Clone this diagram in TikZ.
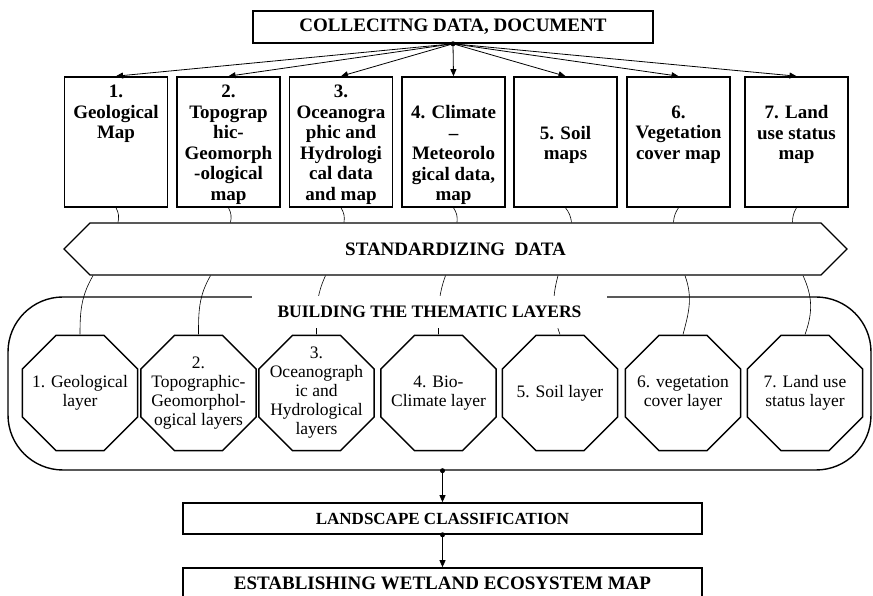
\documentclass[tikz,border=0pt]{standalone}
\usepackage{fontspec}
\setmainfont{Liberation Serif}
\usetikzlibrary{arrows.meta, positioning, shapes.geometric, shapes.symbols, calc}

\begin{document}
\begin{tikzpicture}[x=1pt, y=1pt,
    titlebox/.style={draw, line width=1.6pt, inner sep=0pt, font=\fontsize{19}{21}\selectfont\bfseries},
    mapbox/.style={draw, line width=1.6pt, minimum width=103pt, minimum height=130pt, inner sep=0pt},
    maptext/.style={anchor=north, inner sep=0pt, align=center, font=\fontsize{19}{20.5}\selectfont\bfseries},
    layer/.style={draw, line width=1.5pt, fill=white, regular polygon, regular polygon sides=8, minimum size=125pt, inner sep=0pt},
    layertext/.style={inner sep=0pt, align=center, font=\fontsize{17.5}{19}\selectfont},
    link/.style={line width=0.6pt},
    arr/.style={line width=0.8pt, -{Triangle[length=7pt, width=6pt]}}
  ]
  \useasboundingbox (0,0) rectangle (873,596);

  % Layer frame
  \node[draw, line width=1.4pt, rounded corners=55pt, minimum width=863pt, minimum height=173pt] (lyr) at (439.5,212.5) {};

  % Collecting data
  \node[titlebox, minimum width=400pt, minimum height=32pt] (top) at (453,569) {COLLECITNG DATA, DOCUMENT};

  % Source maps
  \node[mapbox] (m1) at (116,454) {};
  \node[mapbox] (m2) at (228.5,454) {};
  \node[mapbox] (m3) at (341,454) {};
  \node[mapbox] (m4) at (453.5,454) {};
  \node[mapbox] (m5) at (565.5,454) {};
  \node[mapbox] (m6) at (678.5,454) {};
  \node[mapbox] (m7) at (796.5,454) {};
  \node[maptext] (t1) at (116,511) {1.\\Geological\\Map};
  \node[maptext] (t2) at (228.5,511) {2.\\Topograp\\hic-\\Geomorph\\-ological\\map};
  \node[maptext] (t3) at (341,511) {3.\\Oceanogra\\phic and\\Hydrologi\\cal data\\and map};
  \node[maptext] (t4) at (453.5,490.5) {4. Climate\\–\\Meteorolo\\gical data,\\map};
  \node[maptext] (t5) at (565.5,470) {5. Soil\\maps};
  \node[maptext] (t6) at (678.5,490.5) {6.\\Vegetation\\cover map};
  \node[maptext] (t7) at (796.5,490.5) {7. Land\\use status\\map};

  \fill (top.south) circle (2.5pt);
  \draw[arr] (top.south) -- (m1.north);
  \draw[arr] (top.south) -- (m2.north);
  \draw[arr] (top.south) -- (m3.north);
  \draw[arr] (top.south) -- (m4.north);
  \draw[arr] (top.south) -- (m5.north);
  \draw[arr] (top.south) -- (m6.north);
  \draw[arr] (top.south) -- (m7.north);

  % Standardizing
  \node[draw, line width=1.3pt, signal, signal to=east and west, minimum width=783pt, minimum height=52pt, inner sep=0pt, font=\fontsize{19}{21}\selectfont\bfseries] (std) at (455.5,347) {STANDARDIZING\ \ DATA};

  \draw[link] (m1.south) to[bend left=20] ($(m1.south |- std.north)+(2,0)$);
  \draw[link] (m2.south) to[bend left=20] ($(m2.south |- std.north)+(2,0)$);
  \draw[link] (m3.south) to[bend left=20] ($(m3.south |- std.north)+(3,0)$);
  \draw[link] (m4.south) to[bend left=20] ($(m4.south |- std.north)+(3.5,0)$);
  \draw[link] (m5.south) to[bend left=15] ($(m5.south |- std.north)+(6,0)$);
  \draw[link] (m6.south) to[bend right=15] ($(m6.south |- std.north)+(-5,0)$);
  \draw[link] (m7.south) to[bend right=15] ($(m7.south |- std.north)+(-4,0)$);

  % Thematic layers
  \node[layer] (o1) at (80,203) {};
  \node[layer] (o2) at (198.5,203) {};
  \node[layer] (o3) at (316.5,203) {};
  \node[layer] (o4) at (438.5,203) {};
  \node[layer] (o5) at (560,203) {};
  \node[layer] (o6) at (683,203) {};
  \node[layer] (o7) at (805,203) {};
  \node[layertext] (l1) at (o1) {1. Geological\\layer};
  \node[layertext] (l2) at (o2) {2.\\Topographic-\\Geomorphol-\\ogical layers};
  \node[layertext] (l3) at (o3) {3.\\Oceanograph\\ic and\\Hydrological\\layers};
  \node[layertext] (l4) at (o4) {4. Bio-\\Climate layer};
  \node[layertext] (l5) at (o5) {5. Soil layer};
  \node[layertext] (l6) at (o6) {6. vegetation\\cover layer};
  \node[layertext] (l7) at (o7) {7. Land use\\status layer};

  \draw[link] ($(o1.north |- std.south)+(13,0)$) to[out=-120, in=90] (o1.north);
  \draw[link] ($(o2.north |- std.south)+(12,0)$) to[out=-120, in=90] (o2.north);
  \draw[link] ($(o3.north |- std.south)+(9,0)$) to[out=-115, in=90] (o3.north);
  \draw[link] ($(o4.north |- std.south)+(7,0)$) to[out=-110, in=90] (o4.north);
  \draw[link] ($(o5.north |- std.south)+(-2,0)$) to[out=-105, in=110] (o5.north);
  \draw[link] ($(o6.north |- std.south)+(2,0)$) to[out=-70, in=75] (o6.north);
  \draw[link] ($(o7.north |- std.south)+(-2,0)$) to[out=-65, in=70] (o7.north);

  \node[fill=white, minimum width=355pt, minimum height=32pt, inner sep=0pt, font=\fontsize{17.5}{19}\selectfont\bfseries] (lyrtitle) at (429.5,284) {BUILDING THE THEMATIC LAYERS};

  % Classification and map
  \node[titlebox, minimum width=519pt, minimum height=31pt, font=\fontsize{17}{19}\selectfont\bfseries] (cls) at (442.5,77.5) {LANDSCAPE CLASSIFICATION};
  \node[titlebox, minimum width=519pt, minimum height=30pt] (wet) at (442.5,13) {ESTABLISHING WETLAND ECOSYSTEM MAP};

  \fill (cls.north |- lyr.south) circle (2.5pt);
  \draw[arr] (cls.north |- lyr.south) -- (cls.north);
  \fill (cls.south) circle (2.5pt);
  \draw[arr] (cls.south) -- (wet.north);
\end{tikzpicture}
\end{document}
